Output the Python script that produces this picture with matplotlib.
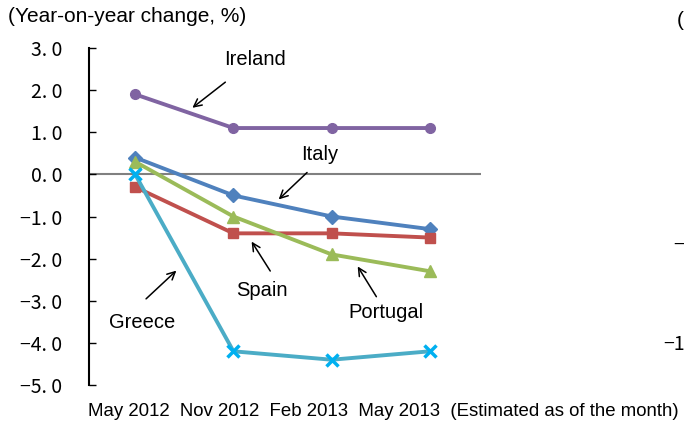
import numpy as np
import matplotlib.pyplot as plt

months = ["May 2012", "Nov 2012", "Feb 2013", "May 2013"]
note = "(Estimated as of the month)"
ireland = [1.9, 1.1, 1.1, 1.1]
italy = [0.4, -0.5, -1.0, -1.3]
spain = [-0.3, -1.4, -1.4, -1.5]
portugal = [0.3, -1.0, -1.9, -2.3]
greece = [0.0, -4.2, -4.4, -4.2]
yticks = [3, 2, 1, 0, -1, -2, -3, -4, -5]

plt.rcParams['font.family'] = ['Liberation Sans', 'DejaVu Sans']
fig = plt.figure(figsize=(6.84, 4.24), dpi=100)
ax = fig.add_axes([89 / 684, 39 / 424, 392 / 684, 337 / 424])
x = np.arange(len(months))

ax.axhline(0, color='#808080', lw=1.5, zorder=1)
ax.plot(x, ireland, color='#8064A2', lw=2.8, marker='o', ms=7, zorder=3)
ax.plot(x, italy, color='#4F81BD', lw=2.8, marker='D', ms=7, zorder=3)
ax.plot(x, spain, color='#C0504D', lw=2.8, marker='s', ms=7, zorder=3)
ax.plot(x, portugal, color='#9BBB59', lw=2.8, marker='^', ms=9, zorder=3)
ax.plot(x, greece, color='#4BACC6', lw=2.8, marker='x', ms=9, mew=2.5,
        mec='#00B0F0', zorder=3)

ax.set_xlim(-0.47, 3.52)
ax.set_ylim(-5, 3)
ax.set_xticks([])
ax.set_yticks(yticks)
ax.set_yticklabels([("%.1f" % v).replace("-", "\u2212").replace(".", ". ") for v in yticks],
                   family=['Noto Sans CJK JP', 'DejaVu Sans'], fontsize=14)
ax.tick_params(axis='y', direction='in', length=5, width=1, pad=19)
for s in ['top', 'right', 'bottom']:
    ax.spines[s].set_visible(False)
ax.spines['left'].set_linewidth(1.5)

arrow = dict(arrowstyle='->', color='black', lw=1.1, mutation_scale=14)
labels = [
    ("Ireland", (1.22, 2.73), (0.94, 2.23), (0.56, 1.54)),
    ("Italy", (1.88, 0.47), (1.77, 0.09), (1.44, -0.64)),
    ("Greece", (0.07, -3.51), (0.09, -3.00), (0.44, -2.24)),
    ("Spain", (1.29, -2.75), (1.39, -2.35), (1.17, -1.54)),
    ("Portugal", (2.55, -3.29), (2.47, -2.96), (2.25, -2.13)),
]
for name, tpos, tail, head in labels:
    ax.text(tpos[0], tpos[1], name, fontsize=14.5, ha='center', va='center')
    ax.annotate('', xy=head, xytext=tail, arrowprops=arrow)

fig.text(8 / 684, 1 - 17 / 424, "(Year-on-year change, %)", fontsize=15, va='center')
fig.text(88 / 684, 12 / 424, "  ".join(months) + "  " + note, fontsize=13.4, va='center')

# fragments of the neighbouring chart at the right edge
fig.text(677 / 684, 1 - 20 / 424, "(", fontsize=15, va='center')
fig.text(673 / 684, 1 - 245 / 424, "\u2212", fontsize=14, va='center',
         family=['Noto Sans CJK JP', 'DejaVu Sans'])
fig.text(663 / 684, 1 - 345 / 424, "\u22121", fontsize=14, va='center',
         family=['Noto Sans CJK JP', 'DejaVu Sans'])

fig.savefig("out.png", dpi=100)
